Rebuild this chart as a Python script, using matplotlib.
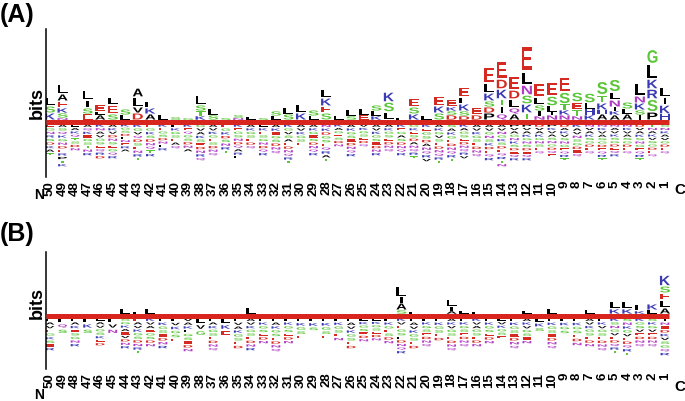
import matplotlib
matplotlib.use("Agg")
import matplotlib.pyplot as plt
from matplotlib.textpath import TextPath
from matplotlib.patches import PathPatch
from matplotlib.font_manager import FontProperties
from matplotlib.transforms import Affine2D

positions = list(range(50, 0, -1))

# ---------- panel A: enriched (above) stacks, bottom -> top, heights ----------
a_above = [
    "K7 S7 L9", "N2 S5 K5 E7 A7 L10", "", "E6 S6 I8 L10", "A5 L3 E8",
    "S6 E9 L8", "L5 S6", "D7 V6 L10 A9", "A6 K6 L7", "L5",
    "S3", "G2", "K4 T5 S6 L10", "S5 L6", "S2",
    "N2 S3", "L3", "S2", "L4 S5", "S6 L6",
    "K7 L9", "L4 S6", "S7 E7 K8 L9", "L4", "S4 L6",
    "E5 L6", "K4 L5 S6", "L8 S10 K10", "L2", "K6 S7 E9",
    "L4", "S7 K7 E10", "D5 S4 K4 E8", "D4 S5 K7 L7 E10", "D5 E8",
    "P7 D6 S6 K8 L10 E16", "Q6 I8 T7 K10 D10 E18", "A6 Q6 L9 D9 E14",
    "T7 K9 S9 N10 L13 E27", "N4 I5 S6 L8 E14",
    "N5 I3 L6 S10 E14", "N5 K5 T6 S12 E15", "N4 T6 E8 S10", "K5 H6 L6 S10",
    "A6 H4 K7 T8 S14", "A5 K4 I4 N7 L8 S13", "A6 L5 S7", "I5 S5 K7 N7 L13",
    "P8 S13 R10 K10 L15 G15", "H6 K9 I8 L10",
]
# depleted (below) letters, top -> bottom, and total depth
a_below = [
    "EGNRSDKAT", "ASQKGNDERPTK", "LAKQTSDN", "AQKEGSTNR", "KNAVGSEQRD",
    "AKVDNSEGQR", "KGSDLNERA", "KGVQDSENRT", "EGKSDNQTR", "KEGSDNLR",
    "LKGSEAQ", "KEQGSDNA", "GVAKSEDNRQ", "AVKGESDNQ", "EGKDSNRT",
    "KEGSNDQARL", "AKGSEDQ", "LKESGNDQR", "AKEGSDNQ", "KGVSAEDNQRT",
    "AVKGSE", "AKGESDNQR", "NKDGSEQRAT", "KAGESDN", "AKGSEDNQR",
    "VKGSEDQ", "AVKGSEDNR", "AKGSEDNQ", "KEGASDNQR", "GKESDANQRT",
    "KEGSDANQRV", "AKGVSEDNQRT", "SAKGEDNQRT", "KAGSEDNQRV", "AVKGSEDNQ",
    "AVGNSKDEQR", "AVNGKSDEQRTN", "PVAGNKSDEQR", "PVAKGNSDEQR", "DVAKGNSEQ",
    "PKVASNGDQE", "DAKVSNGEQRT", "KAVNSGDEQ", "NVAKSGDEQ", "NKVASGDEQRT",
    "NAVKSGDEQR", "NKVASGDEQ", "DVAKSNGEQRT", "TNAKVSGDEQ", "SNKAVGDEQ",
]
a_depth = [34, 45, 29, 34, 37, 37, 30, 39, 35, 29, 27, 30, 39, 34, 32, 37, 27,
           34, 32, 42, 24, 34, 40, 25, 35, 25, 34, 30, 34, 37, 40, 42, 40, 37,
           35, 39, 45, 39, 39, 32, 35, 39, 35, 32, 39, 35, 32, 39, 35, 32]

# ---------- panel B ----------
b_above = [
    "", "", "", "", "", "", "L5", "L2", "L5", "",
    "", "", "", "", "", "", "L6", "", "", "",
    "", "", "", "", "", "", "", "", "S4 A7 I6 L11", "L2",
    "", "", "A3 I4 L8", "L3", "L2", "", "", "", "L3", "",
    "L5", "", "", "L4", "", "K5 L8", "K5 L8", "K3 L7", "L4 K6", "A6 L8 E7 S7 K11",
]
b_below = [
    "LAVEGKSER", "LQS", "LAKESGNR", "LKS", "LAVGSKED",
    "LVN", "SGKAEVDNR", "EAVKGSDNRT", "KVAEGSDN", "LKGSEDNR",
    "LVKGSE", "VAKLGSEDN", "LVG", "LAKGSEDNQ", "LKE",
    "LVAKGSED", "AVKGSEDNR", "LKGSEDN", "LAKGSEDNQ", "LKGSEDN",
    "LKGSE", "LKS", "LKGSE", "LKGSEN", "LAVKGSED",
    "LKGSEDN", "LKGSEDN", "LKGESDN", "KVEGSLDNQR", "LAVKGSED",
    "LKGSEDNQ", "LKGSED", "AKVGSEDNQ", "LKGSEDNQ", "KVAGSEDN",
    "LKGSEDN", "LVKGSE", "LKGSEDNQ", "AKVGSEN", "LKS",
    "LKGSEDNQ", "LKGS", "LKGSEDN", "AVKGSEDN", "LKVGSEDNQ",
    "KSNGVEDQRT", "SNKGVEDQRT", "KGSVEDNQ", "SKGVEDNQ", "INEDKVSGQR",
]
b_depth = [35, 18, 31, 18, 30, 18, 33, 38, 31, 33, 26, 36, 20, 35, 20, 33, 35,
           28, 36, 28, 23, 15, 23, 25, 33, 26, 25, 28, 38, 33, 31, 25, 35, 31,
           31, 28, 23, 33, 28, 16, 33, 18, 30, 31, 35, 38, 40, 31, 31, 40]

red = "#d8261e"
colors = {}
for aa in "DE":
    colors[aa] = "#d42a22"
for aa in "KRH":
    colors[aa] = "#3a3ab4"
for aa in "STGYC":
    colors[aa] = "#5cc63a"
for aa in "NQ":
    colors[aa] = "#b03cc4"

fp = FontProperties(family="Liberation Sans", weight="bold")
glyphs = {}


def draw_letter(ax, ch, x, y0, h, width=0.8, fill=0.85):
    if ch not in glyphs:
        glyphs[ch] = TextPath((0, 0), ch, size=1, prop=fp)
    p = glyphs[ch]
    ext = p.get_extents()
    if ch == "I":
        width = width * 0.25
    hh = h * fill
    t = (Affine2D().translate(-ext.x0, -ext.y0)
         .scale(width / ext.width, hh / ext.height)
         .translate(x - width / 2, y0 + (h - hh) / 2))
    ax.add_patch(PathPatch(t.transform_path(p), fc=colors.get(ch, "black"),
                           ec="none", lw=0))


def draw_panel(ax, above, below, depth, ylim):
    off = 2
    for i, (up, dn, d) in enumerate(zip(above, below, depth)):
        y = off
        for tok in up.split():
            h = float(tok[1:])
            draw_letter(ax, tok[0], i, y, h)
            y += h
        step = (d - off) / len(dn)
        y = -off
        for ch in dn:
            y -= step
            draw_letter(ax, ch, i, y, step, width=0.7, fill=0.6)
    ax.plot([-0.35, 49.3], [0, 0], color=red, lw=3.6, solid_capstyle="butt",
            zorder=5)
    ax.set_xlim(-0.35, 49.56)
    ax.set_ylim(*ylim)
    for s in ["top", "right", "bottom"]:
        ax.spines[s].set_visible(False)
    ax.spines["left"].set_linewidth(1.1)
    ax.set_yticks([])
    ax.set_xticks(range(len(positions)))
    ax.set_xticklabels([str(p) for p in positions], rotation=90,
                       fontsize=9.5, fontweight="bold", family="Liberation Sans")
    ax.tick_params(axis="x", length=0, pad=2)


fig = plt.figure(figsize=(6.85, 4.02), dpi=100)
W, H = 685.0, 402.0
axA = fig.add_axes([45.6 / W, 1 - 178 / H, 626.4 / W, 148 / H])
axB = fig.add_axes([45.6 / W, 1 - 370 / H, 626.4 / W, 117 / H])

draw_panel(axA, a_above, a_below, a_depth, (-55, 93))
draw_panel(axB, b_above, b_below, b_depth, (-53, 64))

txt = dict(family="Liberation Sans", fontweight="bold")
fig.text(0.0, 1 - 3 / H, "(A)", fontsize=18, va="top", ha="left", **txt)
fig.text(0.0, 1 - 222 / H, "(B)", fontsize=18, va="top", ha="left", **txt)
fig.text(37 / W, 1 - 103 / H, "bits", fontsize=13, rotation=90,
         va="center", ha="center", **txt)
fig.text(37 / W, 1 - 303 / H, "bits", fontsize=13, rotation=90,
         va="center", ha="center", **txt)
fig.text(39 / W, 1 - 195 / H, "N", fontsize=10, va="center", ha="center", **txt)
fig.text(680 / W, 1 - 190 / H, "C", fontsize=11, va="center", ha="center", **txt)
fig.text(39 / W, 1 - 395 / H, "N", fontsize=10, va="center", ha="center", **txt)
fig.text(680 / W, 1 - 387 / H, "C", fontsize=11, va="center", ha="center", **txt)

fig.savefig("out.png", dpi=100)
